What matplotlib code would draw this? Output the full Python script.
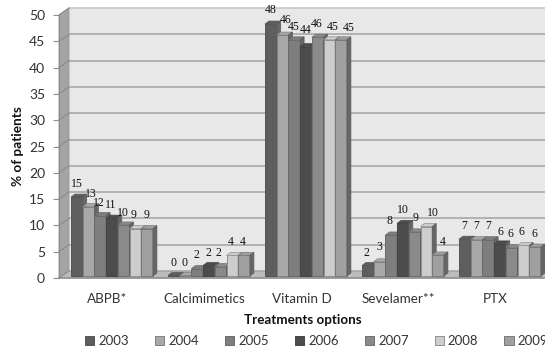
import matplotlib
matplotlib.use('Agg')
import matplotlib.pyplot as plt
from matplotlib.patches import Polygon, Patch

plt.rcParams['font.family'] = ['Lato', 'DejaVu Sans']

categories = ['ABPB*', 'Calcimimetics', 'Vitamin D', 'Sevelamer**', 'PTX']
years = ['2003', '2004', '2005', '2006', '2007', '2008', '2009']

# one list per year, in category order
v2003 = [15.0, 0.1, 47.9, 2.0, 7.0]
v2004 = [13.2, 0.1, 45.8, 2.7, 6.9]
v2005 = [11.5, 1.4, 44.9, 7.8, 6.9]
v2006 = [11.0, 2.0, 43.6, 10.0, 6.1]
v2007 = [9.7, 1.8, 45.4, 8.4, 5.4]
v2008 = [9.0, 3.9, 44.9, 9.4, 5.8]
v2009 = [9.0, 3.9, 44.9, 4.0, 5.5]
series = [v2003, v2004, v2005, v2006, v2007, v2008, v2009]

# printed labels are rounded, not always what the bar height says
labels = [
    [15, 0, 48, 2, 7],
    [13, 0, 46, 3, 7],
    [12, 2, 45, 8, 7],
    [11, 2, 44, 10, 6],
    [10, 2, 46, 9, 6],
    [9, 4, 45, 10, 6],
    [9, 4, 45, 4, 6],
]

colors = ['#5e5e5e', '#a8a8a8', '#7e7e7e', '#4c4c4c', '#8a8a8a', '#cdcdcd', '#a0a0a0']
edges = ['#555555', '#808080', '#6a6a6a', '#444444', '#6f6f6f', '#909090', '#787878']

# label nudges in pixels, per year then per category
nudge_x = [
    [0, 0, 0, -1, -1],
    [2.6, -0.6, 3.4, -0.6, -0.6],
    [-1, -0.4, -0.4, -1.4, -0.4],
    [-1, -1, 0, 0, 0],
    [-0.5, -1.8, -0.8, 1.2, -0.8],
    [-2, -1.5, 3.5, 6.5, -1.5],
    [0, -1, 8, 5, -1],
]
nudge_y = [
    [13, 12.5, 14, 12.5, 13],
    [13, 12.5, 15, 14.8, 14],
    [12.5, 13.6, 13, 14, 14],
    [13, 12.5, 16.7, 13.4, 12],
    [12, 13.5, 13, 13.8, 13.6],
    [13.6, 13.5, 13, 13.6, 13.5],
    [13.6, 13.5, 12, 13, 13],
]

W, H = 545, 347
fig = plt.figure(figsize=(W / 100, H / 100), dpi=100)
ax = fig.add_axes([59 / W, (H - 278) / H, 485 / W, 263 / H])
ax.set_xlim(-0.5, 4.5)
ax.set_ylim(0, 50)

# pixels to data units
px = 5 / 485
py = 50 / 263

# walls and floor, the 3D look
back_x, back_y = 10 * px, 7 * py
ax.add_patch(Polygon([(-0.5 + back_x, back_y), (4.6, back_y), (4.6, 50 + back_y), (-0.5 + back_x, 50 + back_y)],
                     fc='#e8e8e8', ec='none', clip_on=False, zorder=0))
ax.add_patch(Polygon([(-0.5, 0), (-0.5 + back_x, back_y), (-0.5 + back_x, 50 + back_y), (-0.5, 50)],
                     fc='#a4a4a4', ec='#999999', lw=0.6, clip_on=False, zorder=1))
ax.add_patch(Polygon([(-0.5, 0), (-0.5 + back_x, back_y), (4.6, back_y), (4.6, 0)],
                     fc='#bcbcbc', ec='none', clip_on=False, zorder=1))

for t in range(0, 55, 5):
    col = '#c4c4c4' if t == 50 else '#a2a2a2'
    ax.plot([-0.5 + back_x, 4.6], [t + back_y, t + back_y], color=col, lw=1.1, clip_on=False, zorder=2)
    ax.plot([-0.5, -0.5 + back_x], [t, t + back_y], color='#8c8c8c', lw=0.8, clip_on=False, zorder=2)

# bars
bar_w = 11.7 * px
floor = 2 * py
depth_x, depth_y = 4 * px, 3 * py
group_start = -0.5 + 12 * px

for g in range(len(categories)):
    for i, vals in enumerate(series):
        x0 = g + group_start + i * bar_w
        top = vals[g] + floor
        z = 3 + i * 0.1
        ax.bar(x0, vals[g], bar_w, bottom=floor, align='edge', color=colors[i],
               edgecolor=edges[i], lw=0.7, zorder=z, clip_on=False)
        ax.add_patch(Polygon([(x0, top), (x0 + depth_x, top + depth_y),
                              (x0 + bar_w + depth_x, top + depth_y), (x0 + bar_w, top)],
                             fc=colors[i], ec=edges[i], lw=0.5, zorder=z, clip_on=False))
        ax.add_patch(Polygon([(x0 + bar_w, floor), (x0 + bar_w + depth_x, floor + depth_y),
                              (x0 + bar_w + depth_x, top + depth_y), (x0 + bar_w, top)],
                             fc='#666666', ec='#5a5a5a', lw=0.5, zorder=z, clip_on=False))
        ax.annotate(str(labels[i][g]), (x0 + bar_w / 2, top),
                    xytext=(nudge_x[i][g], nudge_y[i][g]), textcoords='offset pixels',
                    ha='center', va='center', fontsize=8.5, family='Liberation Serif',
                    color='#111111', zorder=10, annotation_clip=False)

for s in ['top', 'right']:
    ax.spines[s].set_visible(False)
ax.spines['left'].set_color('#8c8c8c')
ax.spines['bottom'].set_color('#8c8c8c')
ax.spines['bottom'].set_linewidth(1.2)
ax.patch.set_visible(False)

ax.set_yticks(range(0, 55, 5))
ax.set_xticks(range(len(categories)))
ax.set_xticklabels(categories)
ax.tick_params(axis='y', length=4, color='#8c8c8c', labelsize=10, labelcolor='#333333', pad=6)
ax.tick_params(axis='x', length=0, labelsize=9.7, labelcolor='#333333', pad=10.5)

fig.text(18 / W, 1 - 146 / H, '% of patients', rotation=90, ha='center', va='center',
         fontsize=9.8, fontweight='bold', color='#111111')
fig.text(303 / W, 1 - 320 / H, 'Treatments options', ha='center', va='center',
         fontsize=9.6, fontweight='bold', color='#111111')

handles = [Patch(fc=c, ec=e, lw=0.7, label=y) for c, e, y in zip(colors, edges, years)]
fig.legend(handles=handles, ncol=7, loc='center left', bbox_to_anchor=(85 / W, 1 - 341 / H),
           frameon=False, fontsize=9.5, labelcolor='#333333', handlelength=0.7, handleheight=0.7,
           handletextpad=0.3, columnspacing=1.98, borderpad=0, borderaxespad=0)

fig.savefig('out.png', dpi=100)
